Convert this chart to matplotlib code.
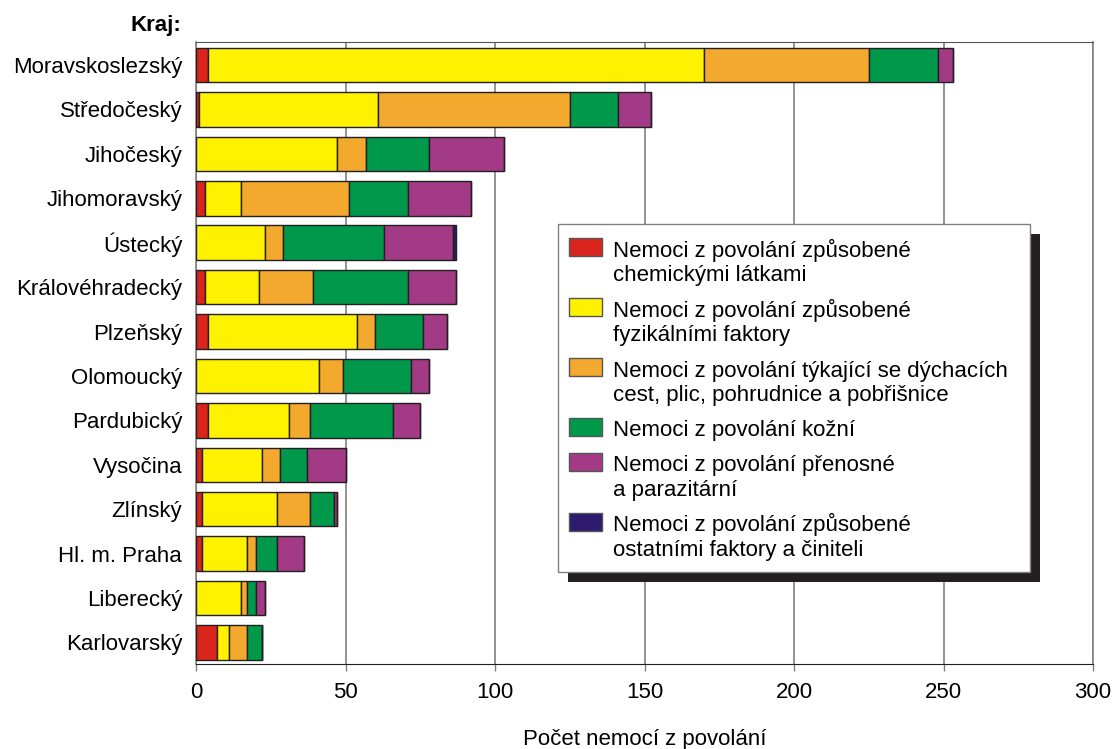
import matplotlib.pyplot as plt
from matplotlib.patches import Rectangle

plt.rcParams['font.family'] = ['Liberation Sans', 'DejaVu Sans']
plt.rcParams['font.size'] = 16

regions = ['Moravskoslezský', 'Středočeský', 'Jihočeský', 'Jihomoravský', 'Ústecký',
           'Královéhradecký', 'Plzeňský', 'Olomoucký', 'Pardubický', 'Vysočina',
           'Zlínský', 'Hl. m. Praha', 'Liberecký', 'Karlovarský']
chem = [4, 1, 0, 3, 0, 3, 4, 0, 4, 2, 2, 2, 0, 7]
fyz = [166, 60, 47, 12, 23, 18, 50, 41, 27, 20, 25, 15, 15, 4]
dych = [55, 64, 10, 36, 6, 18, 6, 8, 7, 6, 11, 3, 2, 6]
kozni = [23, 16, 21, 20, 34, 32, 16, 23, 28, 9, 8, 7, 3, 5]
pren = [5, 11, 25, 21, 23, 16, 8, 6, 9, 13, 1, 9, 3, 0]
ostatni = [0, 0, 0, 0, 1, 0, 0, 0, 0, 0, 0, 0, 0, 0]

series = [chem, fyz, dych, kozni, pren, ostatni]
colors = ['#DA251D', '#FFF200', '#F2A92E', '#00994C', '#A23A85', '#2E1A6E']
labels = ['Nemoci z povolání způsobené\nchemickými látkami',
          'Nemoci z povolání způsobené\nfyzikálními faktory',
          'Nemoci z povolání týkající se dýchacích\ncest, plic, pohrudnice a pobřišnice',
          'Nemoci z povolání kožní',
          'Nemoci z povolání přenosné\na parazitární',
          'Nemoci z povolání způsobené\nostatními faktory a činiteli']

fig = plt.figure(figsize=(11.15, 7.49), dpi=100)
ax = fig.add_axes([0.1758, 0.1135, 0.8045, 0.8304])

y = list(range(len(regions)))
left = [0] * len(regions)
for vals, c in zip(series, colors):
    ax.barh(y, vals, left=left, height=0.777, color=c, edgecolor='#231F20',
            linewidth=1.0, zorder=3)
    left = [l + v for l, v in zip(left, vals)]

ax.set_xlim(0, 300)
ax.set_ylim(13.484, -0.518)
ax.set_xticks([0, 50, 100, 150, 200, 250, 300])
ax.set_yticks(y)
ax.set_yticklabels(regions)
ax.tick_params(axis='y', length=0, pad=10)
ax.tick_params(axis='x', length=5, width=1, color='#808080', direction='out', pad=8)
ax.xaxis.grid(True, color='#808080', linewidth=1.2, zorder=0)
ax.set_axisbelow(True)
for s in ['left', 'right']:
    ax.spines[s].set_color('#808080')
    ax.spines[s].set_linewidth(1.2)
ax.spines['top'].set_color('#555555')
ax.spines['bottom'].set_color('#231F20')
ax.set_xlabel('Počet nemocí z povolání', labelpad=19)
fig.text(0.163, 0.966, 'Kraj:', ha='right', va='center', fontweight='bold')

# legend box with hard shadow
bx, by, bw, bh = 0.4039, 0.1474, 0.5259, 0.5595
ax.add_patch(Rectangle((bx + 0.0112, by - 0.0161), bw, bh, transform=ax.transAxes,
                       facecolor='#231F20', edgecolor='none', zorder=10))
ax.add_patch(Rectangle((bx, by), bw, bh, transform=ax.transAxes, facecolor='white',
                       edgecolor='#808080', linewidth=1.0, zorder=11))
line_h = 25 / 622
ypos = 0.6709
for lab, c in zip(labels, colors):
    n = lab.count('\n') + 1
    ax.add_patch(Rectangle((0.4158, ypos - 0.01445), 0.0368, 0.0289,
                           transform=ax.transAxes, facecolor=c, edgecolor='#555555',
                           linewidth=1.0, zorder=12))
    base = ypos - 9 / 622 - line_h * (n - 1)
    ax.text(0.4649, base, lab, transform=ax.transAxes, ha='left', va='baseline',
            linespacing=1.2, zorder=13)
    ypos -= 35 / 622 + line_h * (n - 1)

fig.savefig('out.png', dpi=100)
